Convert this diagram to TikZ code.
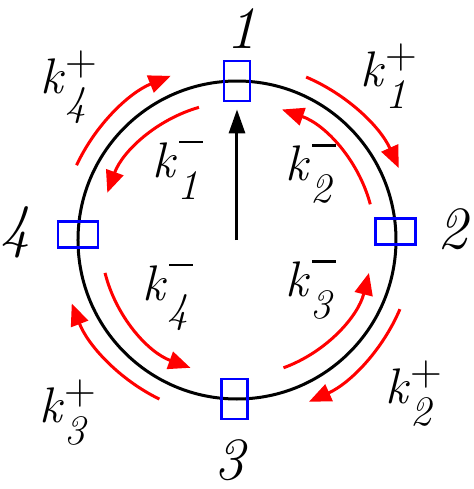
\documentclass[tikz,border=0pt]{standalone}
\usetikzlibrary{arrows.meta}

\newcommand{\kplus}[1]{\textit{k}\rlap{\raisebox{-11pt}{\fontsize{21}{21}\selectfont\textit{#1}}}\raisebox{9pt}{\fontsize{22}{22}\selectfont +}}
\newcommand{\kminus}[1]{\textit{k}\rlap{\raisebox{-11pt}{\fontsize{21}{21}\selectfont\textit{#1}}}\raisebox{17pt}{\fontsize{22}{22}\selectfont\kern1pt\rule{12pt}{1.4pt}}}

\begin{document}
\begin{tikzpicture}[x=0.5pt,y=0.5pt,
  ring/.style={line width=1.5pt},
  site/.style={draw=blue,line width=1.4pt,minimum width=13pt,minimum height=20pt,inner sep=0pt},
  hop/.style={red,line width=1.5pt,-{Triangle[length=11pt,width=9pt]}},
  num/.style={font=\fontsize{30}{30}\selectfont\itshape,inner sep=0pt},
  rate/.style={font=\fontsize{25}{25}\selectfont,inner sep=0pt}]
  \useasboundingbox (-237,-249) rectangle (237,240);
  \coordinate (C) at (0,0);
  \draw[ring] (C) circle[radius=79.5pt];
  % the four sites on the ring
  \node[site] (s1) at (90:159) {};
  \node[site,rotate=90] (s2) at (3:159) {};
  \node[site] (s3) at (269:159) {};
  \node[site,rotate=90] (s4) at (178:159) {};
  \node[num] (n1) at (5,211) {1};
  \node[num] (n2) at (216,11) {2};
  \node[num] (n3) at (-7,-220) {3};
  \node[num] (n4) at (-221,8) {4};
  \draw[line width=1.5pt,-{Triangle[length=12pt,width=8pt]}] (C) -- ([yshift=-3.5pt]s1.south);
  % hops, outer ring
  \draw[hop] (67:88.5pt) arc[start angle=67,end angle=24,radius=88.5pt];
  \draw[hop] (-23:88.5pt) arc[start angle=-23,end angle=-66,radius=88.5pt];
  \draw[hop] (-116:88.5pt) arc[start angle=-116,end angle=-159,radius=88.5pt];
  \draw[hop] (155:88.5pt) arc[start angle=155,end angle=112,radius=88.5pt];
  % hops, inner ring
  \draw[hop] (106:69pt) arc[start angle=106,end angle=160,radius=69pt];
  \draw[hop] (15:69pt) arc[start angle=15,end angle=71,radius=69pt];
  \draw[hop] (-70:68pt) arc[start angle=-70,end angle=-14,radius=68pt];
  \draw[hop] (194:68pt) arc[start angle=194,end angle=250,radius=68pt];
  % rates
  \node[rate] (k1p) at (152,164) {\kplus{1}};
  \node[rate] (k2p) at (177,-154) {\kplus{2}};
  \node[rate] (k3p) at (-169,-173) {\kplus{3}};
  \node[rate] (k4p) at (-168,153) {\kplus{4}};
  \node[rate] (k1m) at (-59,70) {\kminus{1}};
  \node[rate] (k2m) at (74,66) {\kminus{2}};
  \node[rate] (k3m) at (74,-50) {\kminus{3}};
  \node[rate] (k4m) at (-69,-57) {\kminus{4}};
\end{tikzpicture}
\end{document}
